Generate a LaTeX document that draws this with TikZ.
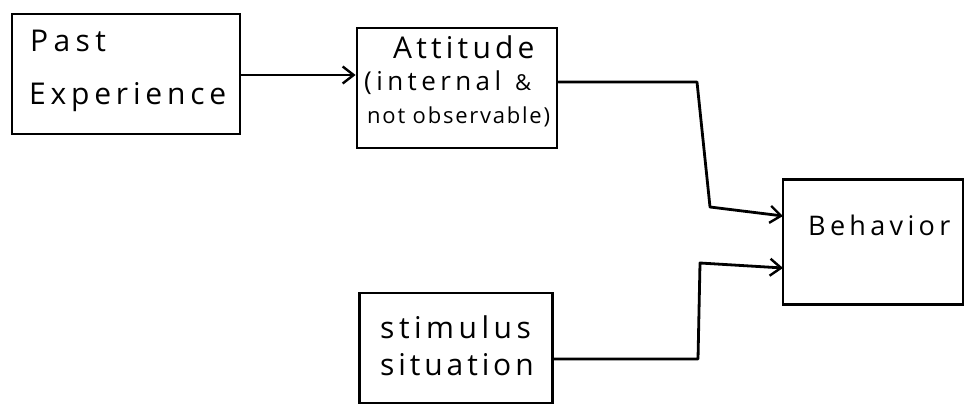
\documentclass[tikz,border=0pt]{standalone}
\usepackage{fontspec}
\setmainfont{Open Sans}
\usetikzlibrary{arrows.meta}
\newcommand{\hw}[3]{\fontsize{#1}{#1}\selectfont\addfontfeature{LetterSpace=#2}#3}
\tikzset{
  box/.style={draw, line width=2.8pt, inner sep=0pt},
  txt/.style={anchor=base west, inner sep=0pt},
  wire/.style={line width=2.8pt, line join=round, line cap=round},
  arr/.style={wire, -{Straight Barb[length=11pt, width=17pt, line width=2.4pt]}},
}
\begin{document}
\begin{tikzpicture}[x=1pt, y=-1pt]
  \useasboundingbox (0,0) rectangle (965,409);
  % boxes
  \node[box, minimum width=228pt, minimum height=120pt] (past) at (126,74) {};
  \node[box, minimum width=200pt, minimum height=120pt] (att)  at (457,88) {};
  \node[box, minimum width=180pt, minimum height=125pt] (beh)  at (873,242) {};
  \node[box, minimum width=193pt, minimum height=110pt] (stim) at (456,348) {};
  % labels
  \node[txt] (t1) at (30,52)   {\hw{30}{18}{Past}};
  \node[txt] (t2) at (29,104)  {\hw{30}{16}{Experience}};
  \node[txt] (t3) at (393,59)  {\hw{30}{14}{Attitude}};
  \node[txt] (t4) at (364,91)  {\hw{26}{17}{(internal}\hspace{14pt}\hw{22}{0}{\&}};
  \node[txt] (t5) at (367,123) {\hw{22}{8}{not observable)}};
  \node[txt] (t6) at (808,235) {\hw{27}{16}{Behavior}};
  \node[txt] (t7) at (380,338) {\hw{30}{15}{stimulus}};
  \node[txt] (t8) at (380,375) {\hw{30}{13}{situation}};
  % bends of the connectors
  \coordinate (p0) at (0,75);
  \coordinate (a1) at (697,82);
  \coordinate (a2) at (710,207);
  \coordinate (a3) at (783,216);
  \coordinate (s1) at (698,359);
  \coordinate (s2) at (700,263);
  \coordinate (s3) at (783,268);
  % connectors
  \draw[arr] (past.east |- p0) -- (att.west |- p0);
  \draw[arr] (att.east |- a1) -- (a1) -- (a2) -- (a3);
  \draw[arr] (stim.east |- s1) -- (s1) -- (s2) -- (s3);
\end{tikzpicture}
\end{document}
